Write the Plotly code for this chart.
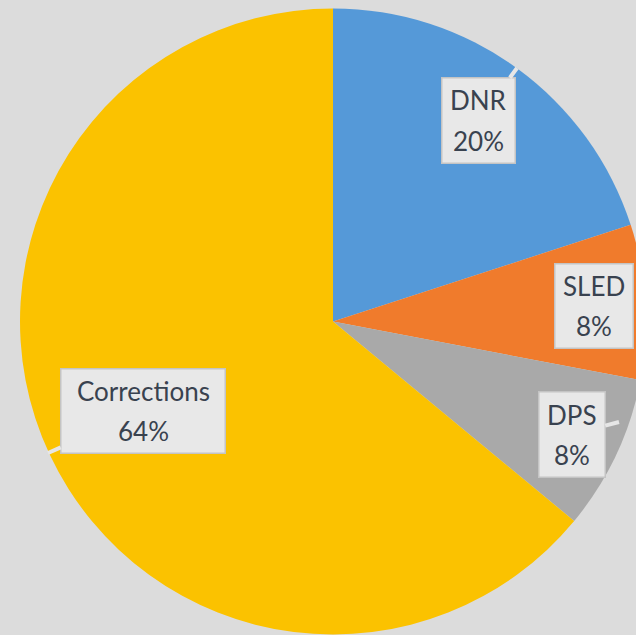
import plotly.graph_objects as go

labels = ["DNR", "SLED", "DPS", "Corrections"]
values = [20, 8, 8, 64]
colors = ["#5599D8", "#F07B2C", "#A9A9A9", "#FBC200"]
pct_text = ["20%", "8%", "8%", "64%"]

# label box layout (pixel centre, size) and callout pointer tip (pixel)
box_center = [(478.5, 120.5), (594, 306), (572, 434.5), (143, 411)]
box_size = [(75, 87), (80, 86), (68, 87), (166, 86)]
tips = [(517, 68), None, (619, 422), (48, 453)]

W, H = 646, 635
ML, MR, MT, MB = 20, 0, 8, 0
PW, PH = W - ML - MR, H - MT - MB


def px(x):
    return (x - ML) / PW


def py(y):
    return 1 - (y - MT) / PH


fig = go.Figure(
    go.Pie(
        labels=labels,
        values=values,
        marker=dict(colors=colors, line=dict(width=0)),
        sort=False,
        direction="clockwise",
        rotation=0,
        textinfo="none",
        hoverinfo="label+percent",
        showlegend=False,
    )
)

annotations = []
font = dict(family="Lato, 'Open Sans', sans-serif", size=26, color="#39424F")
for lab, pct, (cx, cy), (w, h), tip in zip(labels, pct_text, box_center, box_size, tips):
    box = dict(
        xref="paper", yref="paper", text=" ",
        width=w - 3, height=h - 3, bgcolor="#E8E8E8",
        bordercolor="#C4C4C4", borderwidth=1.5, borderpad=0,
        xanchor="center", yanchor="middle",
    )
    if tip is not None:
        box.update(x=px(tip[0]), y=py(tip[1]), showarrow=True, arrowhead=0,
                   arrowwidth=4, arrowcolor="#E6E6E6",
                   ax=cx - tip[0], ay=cy - tip[1])
    else:
        box.update(x=px(cx), y=py(cy), showarrow=False)
    annotations.append(box)
    annotations.append(dict(
        x=px(cx), y=py(cy - 20), xref="paper", yref="paper",
        xanchor="center", yanchor="middle",
        text=lab, showarrow=False, font=font,
    ))
    annotations.append(dict(
        x=px(cx), y=py(cy + 20), xref="paper", yref="paper",
        xanchor="center", yanchor="middle",
        text=pct, showarrow=False, font=font,
    ))

fig.update_layout(
    width=W,
    height=H,
    margin=dict(l=ML, r=MR, t=MT, b=MB),
    paper_bgcolor="#DCDCDC",
    plot_bgcolor="#DCDCDC",
    annotations=annotations,
)

fig.write_html(
    "out.html",
    config={"displayModeBar": False},
    post_script="document.body.style.margin='0';document.body.style.overflow='hidden';",
)
